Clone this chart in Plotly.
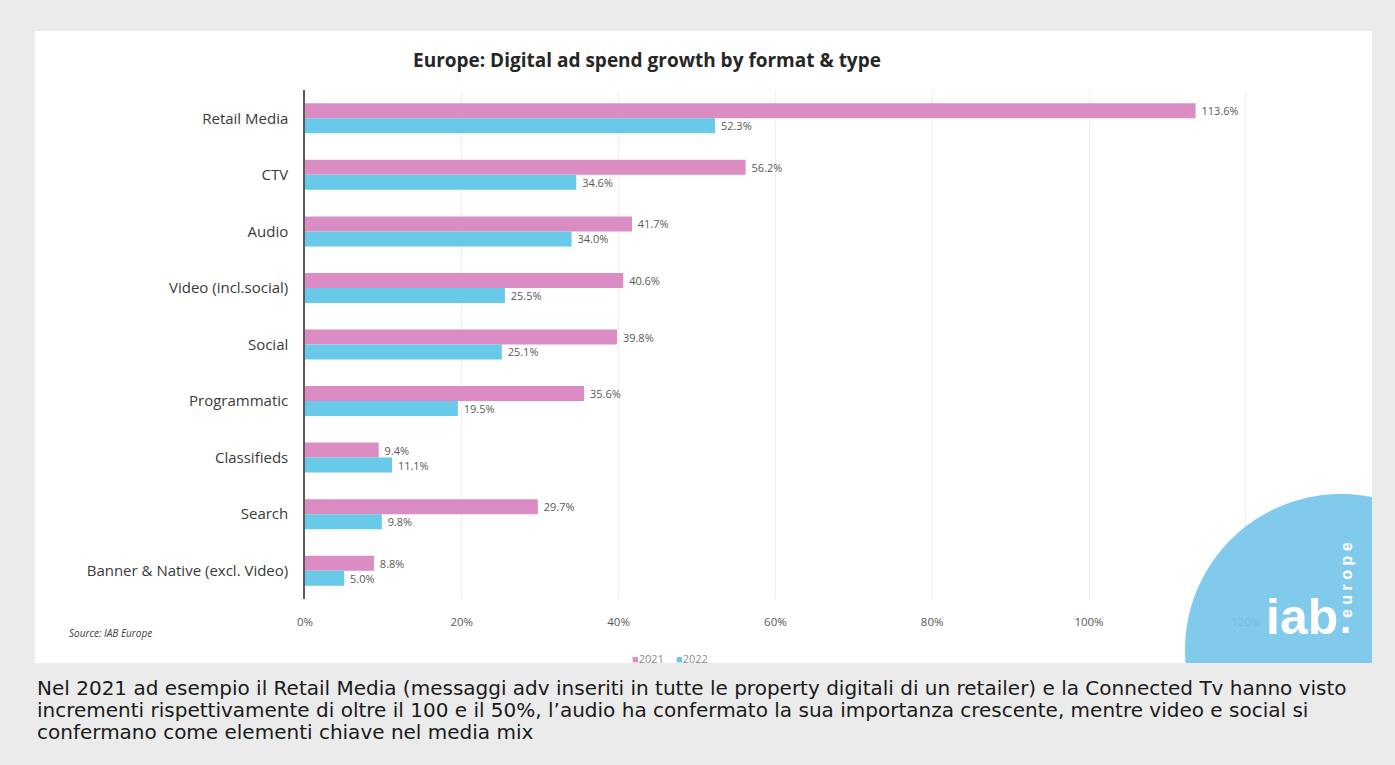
import numpy as np
import plotly.graph_objects as go

# Growth by format & type (%), IAB Europe
categories = [
    "Retail Media", "CTV", "Audio", "Video (incl.social)", "Social",
    "Programmatic", "Classifieds", "Search", "Banner & Native (excl. Video)",
]
growth_2021 = [113.6, 56.2, 41.7, 40.6, 39.8, 35.6, 9.4, 29.7, 8.8]
growth_2022 = [52.3, 34.6, 34.0, 25.5, 25.1, 19.5, 11.1, 9.8, 5.0]
series_names = ["2021", "2022"]
x_ticks = [0, 20, 40, 60, 80, 100, 120]
x_tick_labels = ["0%", "20%", "40%", "60%", "80%", "100%", "120%"]

caption_lines = [
    "Nel 2021 ad esempio il Retail Media (messaggi adv inseriti in tutte le property digitali di un retailer) e la Connected Tv hanno visto",
    "incrementi rispettivamente di oltre il 100 e il 50%, l\u2019audio ha confermato la sua importanza crescente, mentre video e social si",
    "confermano come elementi chiave nel media mix",
]

W, H = 1395, 765
ML, MR, MT, MB = 305, 32, 90, 166
PW, PH = W - ML - MR, H - MT - MB

PINK = "#db8dc3"
BLUE = "#68c9e8"
LOGO = "#74c4ea"
COLORS = [PINK, BLUE]


def px(x):
    """page pixel x -> paper x"""
    return (x - ML) / PW


def py(y):
    """page pixel y -> paper y"""
    return (H - MB - y) / PH


fig = go.Figure()
for name, vals, col in zip(series_names, [growth_2021, growth_2022], COLORS):
    fig.add_trace(go.Bar(
        y=categories, x=vals, name=name, orientation="h",
        marker=dict(color=col, line=dict(width=0)),
        text=[f"\u00a0{v:.1f}%" for v in vals], textposition="outside",
        textfont=dict(size=11, color="#595959", family="Open Sans"),
        cliponaxis=False, showlegend=False,
    ))

shapes = []
# white chart panel on the grey page
shapes.append(dict(type="rect", xref="paper", yref="paper",
                   x0=px(35), x1=px(1372), y0=py(663), y1=py(31),
                   fillcolor="white", line=dict(width=0), layer="below"))

# circular badge clipped by the lower right corner of the panel
cx, cy, r = 1341, 650, 156
x_bottom = cx - np.sqrt(r**2 - (663 - cy) ** 2)
y_right = cy - np.sqrt(r**2 - (1372 - cx) ** 2)
ang0 = np.arctan2(663 - cy, x_bottom - cx)
ang1 = np.arctan2(y_right - cy, 1372 - cx)
if ang1 < ang0:
    ang1 += 2 * np.pi
angs = np.linspace(ang0, ang1, 80)
pts = [(cx + r * np.cos(a), cy + r * np.sin(a)) for a in angs]
path = f"M {px(pts[0][0])},{py(663)} "
path += " ".join(f"L {px(x)},{py(y)}" for x, y in pts)
path += f" L {px(1372)},{py(663)} Z"
shapes.append(dict(type="path", xref="paper", yref="paper", path=path,
                   fillcolor=LOGO, line=dict(width=0), layer="above", opacity=0.9))

logo_font = "Arial, Liberation Sans"
annotations = [
    dict(text="<b>Europe: Digital ad spend growth by format & type</b>",
         x=px(647), y=py(60), xref="paper", yref="paper", xanchor="center", yanchor="middle",
         showarrow=False, font=dict(size=19, color="#262626", family="Open Sans")),
    dict(text="<i>Source: IAB Europe</i>", x=px(67), y=py(633), xref="paper", yref="paper",
         xanchor="left", yanchor="middle", showarrow=False,
         font=dict(size=10, color="#404040", family="Open Sans")),
    dict(text="<b>iab</b>", x=px(1302), y=py(617), xref="paper", yref="paper",
         xanchor="center", yanchor="middle", showarrow=False,
         font=dict(size=50, color="white", family=logo_font)),
    dict(text="<b>e u r o p e</b>", x=px(1346), y=py(580), xref="paper", yref="paper",
         xanchor="center", yanchor="middle", textangle=-90, showarrow=False,
         font=dict(size=16, color="white", family=logo_font)),
    dict(text="<b>.</b>", x=px(1345), y=py(619), xref="paper", yref="paper",
         xanchor="center", yanchor="middle", showarrow=False,
         font=dict(size=40, color="white", family=logo_font)),
]

# compact legend: colour square followed by the series name
legend_x = [648, 692]
for name, col, lx in zip(series_names, COLORS, legend_x):
    annotations.append(dict(
        text=f"<span style='color:{col}'>\u25a0</span>{name}",
        x=px(lx), y=py(658), xref="paper", yref="paper", xanchor="center", yanchor="middle",
        showarrow=False, font=dict(size=11, color="#8a8a8a", family="Open Sans")))

for i, line in enumerate(caption_lines):
    annotations.append(dict(text=line, x=px(35), y=py(688 + 22 * i), xref="paper", yref="paper",
                            xanchor="left", yanchor="middle", showarrow=False,
                            font=dict(size=20, color="#1a1a1a", family="DejaVu Sans")))

fig.update_layout(
    width=W, height=H,
    margin=dict(l=ML, r=MR, t=MT, b=MB, pad=0),
    paper_bgcolor="#ebebeb", plot_bgcolor="rgba(0,0,0,0)",
    barmode="group", bargap=0.47, bargroupgap=0,
    shapes=shapes, annotations=annotations,
    showlegend=False,
)
fig.update_xaxes(range=[0, PW / 7.84], tickvals=x_ticks, ticktext=x_tick_labels,
                 showgrid=True, gridcolor="#f0f0f0", gridwidth=1, zeroline=False,
                 ticks="outside", ticklen=12, tickcolor="rgba(0,0,0,0)",
                 tickfont=dict(size=11.5, color="#595959", family="Open Sans"), showline=False)
fig.update_yaxes(autorange="reversed", showline=True, linecolor="#5a5a5a", linewidth=1.5,
                 ticks="outside", ticklen=12, tickcolor="rgba(0,0,0,0)", showgrid=False,
                 tickfont=dict(size=15, color="#3a3a3a", family="Open Sans"))

fig.write_html("out.html")
